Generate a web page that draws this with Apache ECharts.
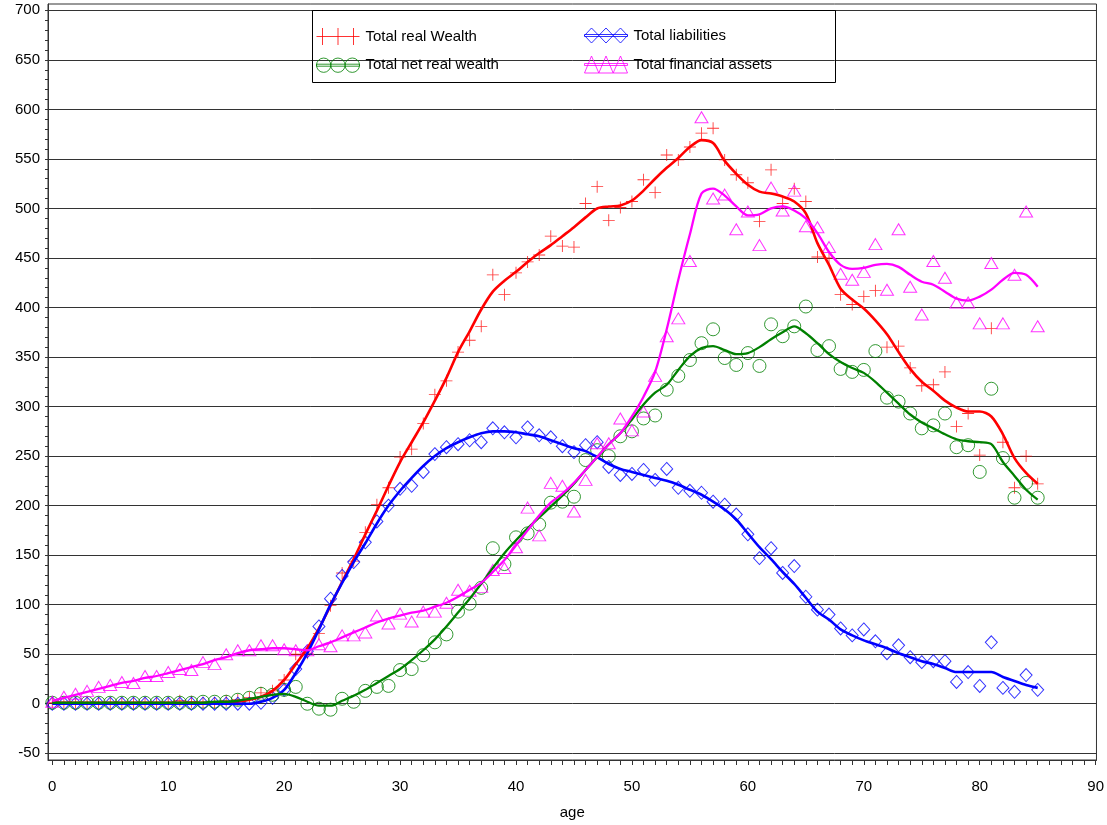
<!DOCTYPE html>
<html><head><meta charset="utf-8">
<script src="https://cdn.jsdelivr.net/npm/echarts@6/dist/echarts.min.js"></script>
<style>html,body{margin:0;padding:0;background:#fff}#c{width:1107px;height:825px}</style>
</head><body><div id="c"></div><script>
const ages = [0,1,2,3,4,5,6,7,8,9,10,11,12,13,14,15,16,17,18,19,20,21,22,23,24,25,26,27,28,29,30,31,32,33,34,35,36,37,38,39,40,41,42,43,44,45,46,47,48,49,50,51,52,53,54,55,56,57,58,59,60,61,62,63,64,65,66,67,68,69,70,71,72,73,74,75,76,77,78,79,80,81,82,83,84,85];

const realWealthPts = [1,1,1,1,1,1,1,1,1,1,1,3,2,1,1,3,4,6,11,13,24,50,51,71,99,132,144,173,201,218,249,257,283,312,326,355,367,381,433,413,435,446,453,472,462,461,505,522,488,501,507,529,516,554,549,562,576,581,549,534,526,487,539,505,520,507,451,450,413,403,411,417,360,361,339,321,322,335,280,293,251,379,264,218,250,222];
const realWealthFit = [1,1,1,1,1,1,1,1,1,1,1,1,1,1,1,1,2,4,7,13,24,40,56,76,99,123,146,171,195,220,244,264,284,306,329,355,376,398,416,427,436,446,455,463,472,481,491,500,502,503,508,518,530,541,551,562,569,566,548,535,524,517,515,512,507,495,465,443,419,408,399,387,373,355,338,325,316,306,299,295,295,290,272,248,233,222];

const liabilitiesPts = [0,0,0,0,0,0,0,0,0,0,0,0,0,0,0,0,0,0,1,6,14,35,53,78,106,129,143,163,184,200,217,220,234,252,259,262,266,264,278,274,269,279,271,269,260,254,261,264,239,231,232,236,226,237,218,215,213,204,201,191,171,147,157,132,139,108,95,90,76,69,75,63,51,59,47,42,43,43,22,32,18,62,16,12,29,14];
const liabilitiesFit = [0,0,0,0,0,0,0,0,0,0,0,0,0,0,0,0,0,0,2,6,14,31,51,75,100,122,143,162,182,200,215,228,240,250,258,264,269,273,275,275,274,272,270,266,262,258,255,249,242,237,234,231,228,225,221,216,211,204,196,186,172,158,146,133,121,107,93,85,75,69,64,60,56,51,47,43,40,36,32,32,32,32,27,23,19,16];

const netWealthPts = [1,1,1,1,1,1,1,1,1,1,1,1,1,2,2,2,4,6,10,9,14,17,0,-5,-6,5,2,13,17,18,34,35,49,62,70,93,101,117,157,141,168,172,181,203,204,209,246,256,250,270,275,288,291,317,331,347,364,378,349,342,354,341,383,371,381,401,357,361,338,335,337,356,309,305,293,278,281,293,259,261,234,318,248,208,223,208];
const netWealthFit = [1,1,1,1,1,1,1,1,1,1,1,1,1,1,2,2,3,5,7,9,10,7,2,-2,-2,3,8,14,21,28,35,44,54,65,78,92,106,121,137,152,165,177,188,199,210,222,236,249,262,273,287,302,314,322,337,351,359,361,357,353,354,360,368,375,381,374,364,353,345,339,334,325,314,303,292,284,278,272,267,265,264,262,244,230,216,206];

const finAssetsPts = [2,7,10,13,17,19,22,21,28,28,32,35,34,42,40,50,54,54,59,59,55,54,54,60,58,69,69,72,89,81,91,83,93,93,102,115,114,118,135,137,158,198,170,223,220,194,226,263,263,288,276,295,331,371,389,447,592,510,514,479,497,463,521,498,518,482,481,461,434,428,436,464,418,479,421,393,447,430,405,405,384,445,384,433,497,381];
const finAssetsFit = [3,6,9,12,15,18,21,23,26,28,31,34,37,40,44,47,51,54,55,56,56,55,54,58,62,67,72,77,82,86,89,92,94,98,102,108,115,122,133,145,160,175,190,203,212,223,236,249,262,273,290,310,335,378,428,474,515,520,513,502,493,494,500,502,498,490,475,456,443,439,440,443,444,441,433,426,423,416,409,407,411,418,428,435,433,421];

const seriesNames = ['Total real Wealth','Total liabilities','Total net real wealth','Total financial assets'];
const xLabelValues = [0,10,20,30,40,50,60,70,80,90];
const yLabelValues = [-50,0,50,100,150,200,250,300,350,400,450,500,550,600,650,700];

const xTickValues = ages.concat([86,87,88,89,90]);
const yTickValues = [];
for (let v = -50; v <= 700; v += 10) yTickValues.push(v);

const pairs = arr => arr.map((v, i) => [ages[i], v]);
const FONT = "'Liberation Sans', Arial, sans-serif";
const colors = ['#ff0000', '#0000ff', '#008000', '#ff00ff'];
// plus drawn as two thin filled bars
const plusPath = 'path://M0,6.5L14,6.5L14,7.5L0,7.5ZM6.5,0L7.5,0L7.5,14L6.5,14Z';
const symbols = [plusPath, 'diamond', 'circle', 'triangle'];
const symSizes = [12, [12, 13], 13, [13, 11]];
const pts = [realWealthPts, liabilitiesPts, netWealthPts, finAssetsPts];
const fits = [realWealthFit, liabilitiesFit, netWealthFit, finAssetsFit];
const lineWidths = [2.6, 2.6, 2.3, 2.3];

const bar = 'M0,7.5L43,7.5L43,9.5L0,9.5Z';
const legendIcons = [
  'path://M0,8.5L43,8.5M6,0L6,17M21.5,0L21.5,17M37,0L37,17',
  'path://M0,8.5L7,1L14.3,8.5L7,16ZM14.3,8.5L21.5,1L28.7,8.5L21.5,16ZM28.7,8.5L36,1L43,8.5L36,16Z' + bar,
  'path://M0,8.5A7.1,7.1,0,1,1,14.3,8.5A7.1,7.1,0,1,1,0,8.5ZM14.3,8.5A7.1,7.1,0,1,1,28.6,8.5A7.1,7.1,0,1,1,14.3,8.5ZM28.6,8.5A7.1,7.1,0,1,1,43,8.5A7.1,7.1,0,1,1,28.6,8.5Z' + bar,
  'path://M0,17L7,0L14.3,17ZM14.3,17L21.5,0L28.7,17ZM28.7,17L36,0L43,17Z' + bar
];

const series = [];
for (let k = 0; k < 4; k++) {
  const isPlus = k === 0;
  series.push({
    name: seriesNames[k], type: 'scatter', data: pairs(pts[k]),
    symbol: symbols[k], symbolSize: symSizes[k],
    itemStyle: isPlus
      ? { color: colors[k], borderWidth: 0 }
      : { color: 'rgba(0,0,0,0)', borderColor: colors[k], borderWidth: 1 },
    emphasis: { disabled: true },
    z: 3
  });
}
for (let k = 0; k < 4; k++) {
  series.push({
    name: seriesNames[k], type: 'line', data: pairs(fits[k]),
    smooth: 0.3, showSymbol: false, symbol: 'none',
    lineStyle: { color: colors[k], width: lineWidths[k] },
    itemStyle: { color: colors[k] },
    emphasis: { disabled: true },
    z: 4
  });
}

const legendItem = k => ({
  name: seriesNames[k], icon: legendIcons[k],
  itemStyle: { color: 'rgba(0,0,0,0)', borderColor: colors[k], borderWidth: 1 }
});
const legendBase = {
  orient: 'vertical', top: 27.5, padding: 0, itemGap: 12, itemWidth: 43, itemHeight: 17,
  selectedMode: false,
  textStyle: { fontFamily: FONT, fontSize: 15, color: '#000', padding: [0, 0, 0, 1] }
};

const chart = echarts.init(document.getElementById('c'), null, { renderer: 'canvas' });
chart.setOption({
  animation: false,
  backgroundColor: '#fff',
  grid: { left: 48, right: 7, top: 4, bottom: 64, show: true, borderColor: '#333', borderWidth: 1, backgroundColor: 'transparent' },
  legend: [
    Object.assign({}, legendBase, { left: 316, data: [legendItem(0), legendItem(2)] }),
    Object.assign({}, legendBase, { left: 584, data: [legendItem(1), legendItem(3)] })
  ],
  graphic: [{
    type: 'rect', z: 10, silent: true,
    shape: { x: 312.5, y: 10.5, width: 523, height: 72 },
    style: { fill: 'none', stroke: '#000', lineWidth: 1 }
  }],
  xAxis: {
    type: 'value', min: -0.37, max: 90.07,
    name: 'age', nameLocation: 'middle', nameGap: 45,
    nameTextStyle: { fontFamily: FONT, fontSize: 15, color: '#000' },
    axisLine: { show: true, onZero: false, lineStyle: { color: '#333', width: 1 } },
    axisTick: { show: true, customValues: xTickValues, length: 5, lineStyle: { color: '#333' } },
    axisLabel: { customValues: xLabelValues, margin: 19, fontFamily: FONT, fontSize: 15, color: '#000' },
    splitLine: { show: false }
  },
  yAxis: {
    type: 'value', min: -56.8, max: 706.4,
    axisLine: { show: true, onZero: false, lineStyle: { color: '#333', width: 1 } },
    axisTick: { show: true, customValues: yTickValues, length: 3, lineStyle: { color: '#333' } },
    axisLabel: { customValues: yLabelValues, margin: 8, fontFamily: FONT, fontSize: 15, color: '#000' },
    splitLine: { show: true, lineStyle: { color: ['#333', 'rgba(0,0,0,0)', 'rgba(0,0,0,0)', 'rgba(0,0,0,0)', 'rgba(0,0,0,0)'], width: 1 } }
  },
  series: series
});
</script></body></html>
